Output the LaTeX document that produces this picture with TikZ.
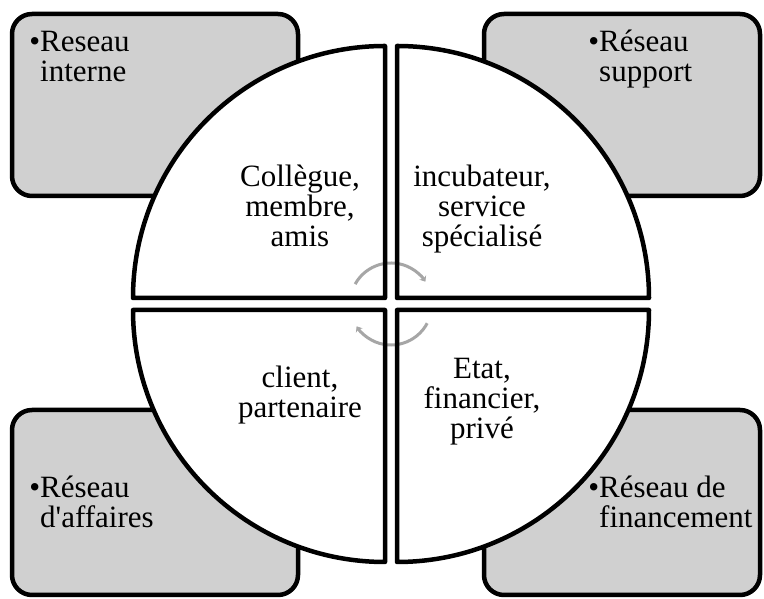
\documentclass[tikz,border=0pt]{standalone}
\usepackage{fontspec}
\setmainfont{Liberation Serif}
\usetikzlibrary{arrows.meta}
\definecolor{boxgray}{RGB}{208,208,208}
\definecolor{arcgray}{RGB}{166,166,166}
\tikzset{
  netbox/.style={draw=black, line width=4.5pt, fill=boxgray, rounded corners=20pt, inner sep=0pt},
  quadfill/.style={fill=white},
  quadline/.style={draw=black, line width=4.5pt, line join=round},
  lbl/.style={font=\fontsize{31}{30}\selectfont, inner sep=0pt, align=left},
  qlbl/.style={font=\fontsize{31}{30}\selectfont, inner sep=0pt, align=center},
  cyc/.style={draw=arcgray, line width=3pt, -{Stealth[length=5pt,width=8pt]}}
}
\begin{document}
\begin{tikzpicture}[x=1pt,y=1pt]
\useasboundingbox (0,0) rectangle (764,599);
% boxes
\node[netbox, minimum width=286pt, minimum height=182pt] (boxTL) at (155,494) {};
\node[netbox, minimum width=276pt, minimum height=182pt] (boxTR) at (622,494) {};
\node[netbox, minimum width=286pt, minimum height=185pt] (boxBL) at (155,96.5) {};
\node[netbox, minimum width=276pt, minimum height=185pt] (boxBR) at (622,96.5) {};
% quadrant corners
\coordinate (cTL) at (385,301);
\coordinate (cTR) at (397,301);
\coordinate (cBL) at (385,289);
\coordinate (cBR) at (397,289);
\coordinate (mid) at (391,295);
% quadrant fills
\fill[quadfill] (cTL) -- ++(-252,0) arc[start angle=180,end angle=90,radius=252] -- cycle;
\fill[quadfill] (cTR) -- ++(252,0) arc[start angle=0,end angle=90,radius=252] -- cycle;
\fill[quadfill] (cBL) -- ++(-252,0) arc[start angle=180,end angle=270,radius=252] -- cycle;
\fill[quadfill] (cBR) -- ++(252,0) arc[start angle=0,end angle=-90,radius=252] -- cycle;
% cycle arrows
\draw[cyc] (mid) ++(151:41) arc[start angle=151,end angle=33,radius=41];
\draw[cyc] (mid) ++(-28:41) arc[start angle=-28,end angle=-147,radius=41];
% quadrant borders
\draw[quadline] (cTL) -- ++(-252,0) arc[start angle=180,end angle=90,radius=252] -- cycle;
\draw[quadline] (cTR) -- ++(252,0) arc[start angle=0,end angle=90,radius=252] -- cycle;
\draw[quadline] (cBL) -- ++(-252,0) arc[start angle=180,end angle=270,radius=252] -- cycle;
\draw[quadline] (cBR) -- ++(252,0) arc[start angle=0,end angle=-90,radius=252] -- cycle;
% box labels (base = baseline of last line)
\node[lbl, anchor=base west] (tTL) at (40,517) {\llap{•}Reseau\\interne};
\node[lbl, anchor=base west] (tTR) at (599,517) {\llap{•}Réseau\\support};
\node[lbl, anchor=base west] (tBL) at (40,71) {\llap{•}Réseau\\d\textquotesingle affaires};
\node[lbl, anchor=base west] (tBR) at (599,71) {\llap{•}Réseau de\\financement};
% quadrant labels
\node[qlbl, anchor=base] (qTL) at (300,352) {Collègue,\\membre,\\amis};
\node[qlbl, anchor=base] (qTR) at (482,352) {incubateur,\\service\\spécialisé};
\node[qlbl, anchor=base] (qBL) at (300,181) {client,\\partenaire};
\node[qlbl, anchor=base] (qBR) at (482,160) {Etat,\\financier,\\privé};
\end{tikzpicture}
\end{document}
